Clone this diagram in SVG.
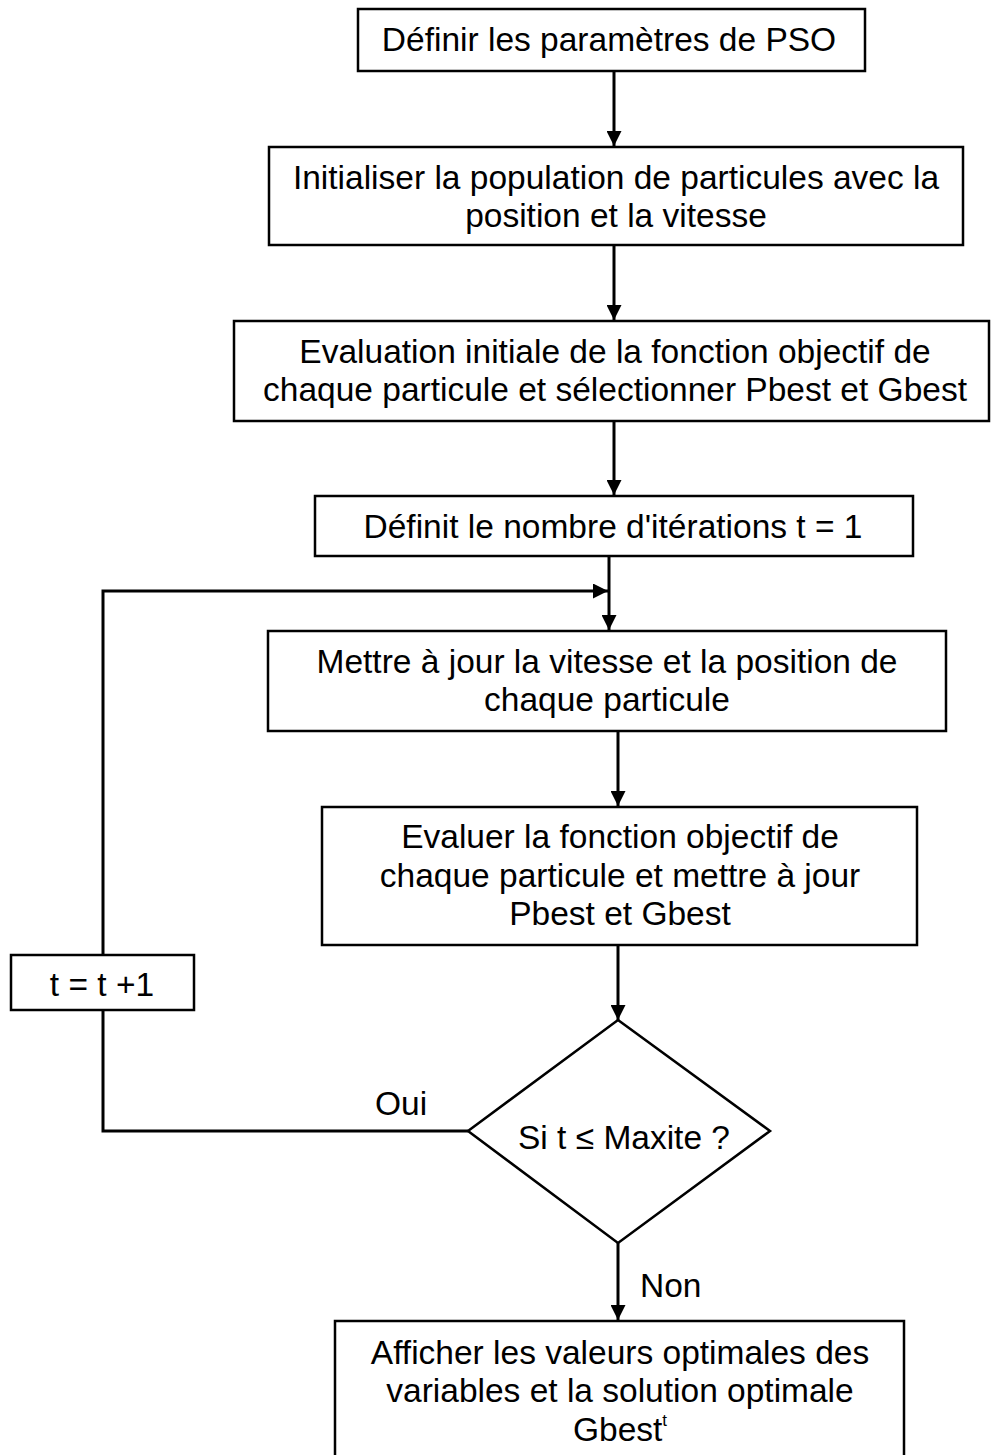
<svg xmlns="http://www.w3.org/2000/svg" width="991" height="1455" viewBox="0 0 991 1455">
<defs>
<style>
.box{fill:#fff;stroke:#000;stroke-width:2.5}
.t{font-family:"Liberation Sans",Arial,sans-serif;font-size:33.5px;fill:#000;text-anchor:middle}
.lbl{font-family:"Liberation Sans",Arial,sans-serif;font-size:33.5px;fill:#000}
.c{fill:none;stroke:#000;stroke-width:3}
</style>
<marker id="ah" viewBox="0 0 10 10" refX="10" refY="5" markerUnits="userSpaceOnUse" markerWidth="15" markerHeight="15" orient="auto">
<path d="M0,0 L10,5 L0,10 z" fill="#000"/>
</marker>
</defs>
<rect width="991" height="1455" fill="#fff"/>
<g id="connectors">
<line class="c" x1="614" y1="71" x2="614" y2="146" marker-end="url(#ah)"/>
<line class="c" x1="614" y1="245" x2="614" y2="320" marker-end="url(#ah)"/>
<line class="c" x1="614" y1="421" x2="614" y2="495" marker-end="url(#ah)"/>
<line class="c" x1="609" y1="556" x2="609" y2="630" marker-end="url(#ah)"/>
<polyline class="c" points="103,955 103,591 608,591" marker-end="url(#ah)"/>
<line class="c" x1="618" y1="731" x2="618" y2="806" marker-end="url(#ah)"/>
<line class="c" x1="618" y1="945" x2="618" y2="1020" marker-end="url(#ah)"/>
<polyline class="c" points="468,1131 103,1131 103,1010"/>
<line class="c" x1="618" y1="1243" x2="618" y2="1320" marker-end="url(#ah)"/>
<text class="lbl" x="375" y="1115">Oui</text>
<text class="lbl" x="640" y="1297">Non</text>
</g>
<g id="n1">
<rect class="box" x="358" y="9" width="507" height="62"/>
<text class="t" x="609" y="51">Définir les paramètres de PSO</text>
</g>
<g id="n2">
<rect class="box" x="269" y="147" width="694" height="98"/>
<text class="t" x="616" y="189">Initialiser la population de particules avec la</text>
<text class="t" x="616" y="227">position et la vitesse</text>
</g>
<g id="n3">
<rect class="box" x="234" y="321" width="755" height="100"/>
<text class="t" x="615" y="363">Evaluation initiale de la fonction objectif de</text>
<text class="t" x="615" y="401">chaque particule et sélectionner Pbest et Gbest</text>
</g>
<g id="n4">
<rect class="box" x="315" y="496" width="598" height="60"/>
<text class="t" x="613" y="538">Définit le nombre d'itérations t = 1</text>
</g>
<g id="n5">
<rect class="box" x="268" y="631" width="678" height="100"/>
<text class="t" x="607" y="673">Mettre à jour la vitesse et la position de</text>
<text class="t" x="607" y="711">chaque particule</text>
</g>
<g id="n6">
<rect class="box" x="322" y="807" width="595" height="138"/>
<text class="t" x="620" y="848">Evaluer la fonction objectif de</text>
<text class="t" x="620" y="887">chaque particule et mettre à jour</text>
<text class="t" x="620" y="925">Pbest et Gbest</text>
</g>
<g id="n7">
<polygon class="box" points="618,1020 770,1131 618,1243 468,1131"/>
<text class="t" x="624" y="1149">Si t ≤ Maxite ?</text>
</g>
<g id="n8">
<rect class="box" x="11" y="955" width="183" height="55"/>
<text class="t" x="102" y="996">t = t +1</text>
</g>
<g id="n9">
<rect class="box" x="335" y="1321" width="569" height="150"/>
<text class="t" x="620" y="1364">Afficher les valeurs optimales des</text>
<text class="t" x="620" y="1402">variables et la solution optimale</text>
<text class="t" x="620" y="1441">Gbest<tspan font-size="17" dy="-15">t</tspan></text>
</g>
</svg>
